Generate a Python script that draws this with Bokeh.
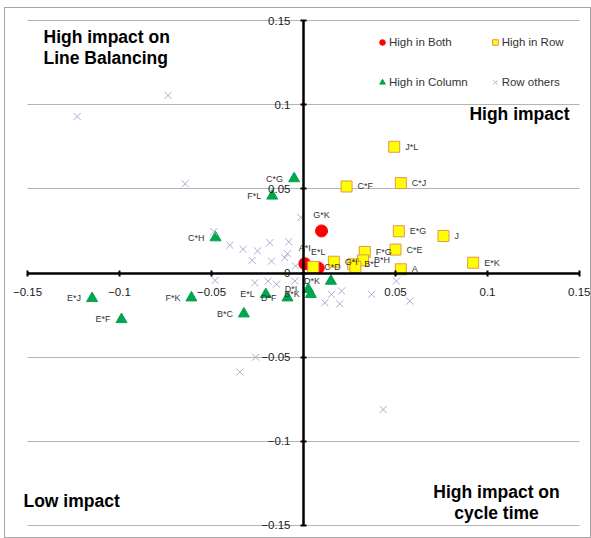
from bokeh.plotting import figure
from bokeh.models import ColumnDataSource, FixedTicker, Legend, LegendItem, Label, Grid
from bokeh.core.properties import value
from bokeh.embed import file_html
from bokeh.resources import INLINE

# ---- data ----
both_x = [0.0098, 0.0007, 0.0080]
both_y = [0.0250, 0.0055, 0.0030]
both_lbl = ["G*K", "A*I", "E*L"]

row_x = [0.0493, 0.0234, 0.0529, 0.0518, 0.0761, 0.0500, 0.0333, 0.0324, 0.0270, 0.0282, 0.0165, 0.0053, 0.0529, 0.0922]
row_y = [0.0750, 0.0514, 0.0534, 0.0248, 0.0220, 0.0139, 0.0125, 0.0075, 0.0052, 0.0036, 0.0067, 0.0036, 0.0022, 0.0061]
row_lbl = ["J*L", "C*F", "C*J", "E*G", "J", "C*E", "F*G", "B*H", "B*L", "", "G*I", "C*D", "A", "E*K"]

col_x = [-0.1149, -0.0989, -0.0609, -0.0324, -0.0205, -0.0087, 0.0026, 0.0040, 0.0149, -0.0478, -0.0170, -0.0051]
col_y = [-0.0151, -0.0276, -0.0147, -0.0242, -0.0127, -0.0147, -0.0097, -0.0127, -0.0048, 0.0210, 0.0458, 0.0561]
col_lbl = ["E*J", "E*F", "F*K", "B*C", "E*L", "D*F", "D*I", "B*K", "D*K", "C*H", "F*L", "C*G"]

oth_x = [-0.1230, -0.0736, -0.0643, -0.0487, -0.0400, -0.0328, -0.0250, -0.0279, -0.0183, -0.0080,
         -0.0087, -0.0015, -0.0102, -0.0174, -0.0043, -0.0480, -0.0265, -0.0192, -0.0147, -0.0047,
         0.0116, 0.0197, 0.0152, 0.0207, 0.0370, 0.0505, 0.0578, -0.0346, -0.0260, 0.0433]
oth_y = [0.0930, 0.1055, 0.0530, 0.0246, 0.0165, 0.0141, 0.0131, 0.0075, 0.0180, 0.0185,
         0.0115, 0.0330, 0.0091, 0.0071, 0.0042, -0.0044, -0.0058, -0.0048, -0.0067, -0.0048,
         -0.0177, -0.0183, -0.0127, -0.0107, -0.0127, -0.0048, -0.0167, -0.0588, -0.0500, -0.0811]

x_ticks = [-0.15, -0.1, -0.05, 0.05, 0.1, 0.15]
y_ticks = [-0.15, -0.1, -0.05, 0, 0.05, 0.1, 0.15]
axis_lim = (-0.15, 0.15)

FONT = "Liberation Sans"

p = figure(width=587, height=531, x_range=(-0.15761, 0.15652), y_range=(-0.15416, 0.15416),
           output_backend="svg", toolbar_location=None,
           min_border_left=8, min_border_right=1, min_border_top=5, min_border_bottom=7)
p.styles = {"border": "1px solid #a6a6a6", "margin-left": "4px", "margin-top": "7px"}
p.outline_line_color = None
p.background_fill_color = "white"
p.border_fill_color = "white"

# axes crossing at zero
for ax in (p.xaxis[0], p.yaxis[0]):
    ax.fixed_location = 0
    ax.bounds = axis_lim
    ax.axis_line_color = "black"
    ax.axis_line_width = 2.5
    ax.major_tick_line_color = "black"
    ax.major_tick_line_width = 2
    ax.major_tick_in = 3
    ax.major_tick_out = 3
    ax.minor_tick_line_color = None
    ax.major_label_text_font = FONT
    ax.major_label_text_font_size = "11.5px"
    ax.major_label_text_color = "#1a1a1a"
p.xaxis[0].ticker = FixedTicker(ticks=x_ticks)
p.yaxis[0].ticker = FixedTicker(ticks=y_ticks)
p.xaxis[0].major_label_standoff = 12
p.yaxis[0].major_label_standoff = 10

p.xgrid.visible = False
grid = p.ygrid[0]
grid.ticker = FixedTicker(ticks=y_ticks)
grid.grid_line_color = "#b4b4b4"
grid.grid_line_width = 1
if "cross_bounds" in Grid.properties():
    grid.cross_bounds = axis_lim
else:
    grid.visible = False
    p.segment(x0=axis_lim[0], x1=axis_lim[1], y0=y_ticks, y1=y_ticks,
              line_color="#b4b4b4", line_width=1)

src_both = ColumnDataSource(dict(x=both_x, y=both_y, t=both_lbl))
src_row = ColumnDataSource(dict(x=row_x, y=row_y, t=row_lbl))
src_col = ColumnDataSource(dict(x=col_x, y=col_y, t=col_lbl))
src_oth = ColumnDataSource(dict(x=oth_x, y=oth_y))

r_both = p.scatter("x", "y", source=src_both, marker="circle", size=12,
                   fill_color="#ff0000", line_color="#ff0000")
r_row = p.scatter("x", "y", source=src_row, marker="square", size=11,
                  fill_color="#ffff00", line_color="#e3954f", line_width=1)
r_col = p.scatter("x", "y", source=src_col, marker="triangle", size=11,
                  fill_color="#00a550", line_color="#00a550")
r_oth = p.scatter("x", "y", source=src_oth, marker="x", size=10,
                  line_color="#b3a8d8", line_width=1)

lbl_kw = dict(text_font=value(FONT), text_font_size="9px", text_color="#333333",
              text_baseline="middle")
p.text("x", "y", text="t", source=src_row, x_offset=11, text_align="left", **lbl_kw)
p.text("x", "y", text="t", source=src_col, x_offset=-11, text_align="right", **lbl_kw)
p.text("x", "y", text="t", source=src_both, y_offset=-16, text_align="center", **lbl_kw)

legend = Legend(items=[
    LegendItem(label="High in Both", renderers=[r_both]),
    LegendItem(label="High in Column", renderers=[r_col]),
    LegendItem(label="High in Row", renderers=[r_row]),
    LegendItem(label="Row others", renderers=[r_oth]),
], ncols=2, location=(362, 440), glyph_width=14, glyph_height=18, label_height=20,
   label_standoff=0, spacing=20, padding=0, margin=0,
   label_text_font=FONT, label_text_font_size="11.5px", label_text_color="#333333",
   border_line_color=None, background_fill_alpha=0)
p.add_layout(legend)

q_kw = dict(text_font=FONT, text_font_size="17.5px", text_font_style="bold",
            text_color="black", text_line_height=1.05)
p.add_layout(Label(x=-0.1413, y=0.1464, text="High impact on\nLine Balancing",
                   text_align="left", text_baseline="top", **q_kw))
p.add_layout(Label(x=0.1446, y=0.0946, text="High impact",
                   text_align="right", text_baseline="middle", **q_kw))
p.add_layout(Label(x=-0.1522, y=-0.1357, text="Low impact",
                   text_align="left", text_baseline="middle", **q_kw))
p.add_layout(Label(x=0.1049, y=-0.1244, text="High impact on\ncycle time",
                   text_align="center", text_baseline="top", **q_kw))

open("out.html", "w").write(file_html(p, INLINE))
